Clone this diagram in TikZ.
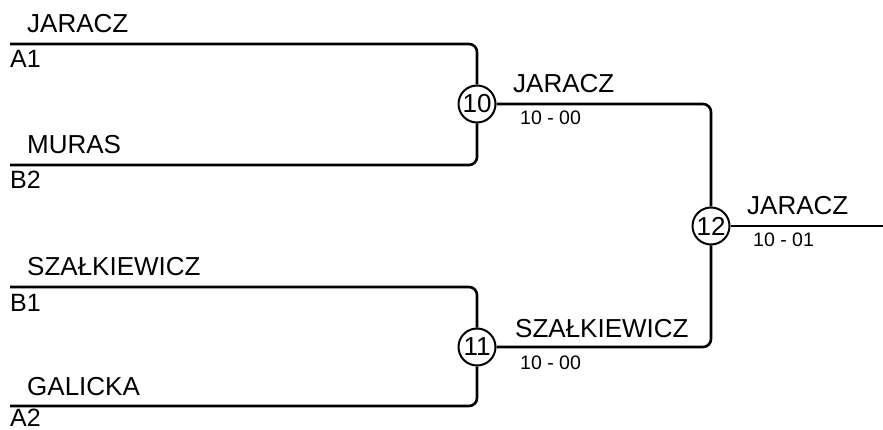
\documentclass[tikz,border=0pt]{standalone}
\usepackage{fontspec}
\setmainfont{Liberation Sans}
\begin{document}
\begin{tikzpicture}[x=1pt,y=-1pt,
    line/.style={line width=2.6pt,rounded corners=8pt},
    player/.style={anchor=base west,inner sep=0pt,font=\fontsize{26}{26}\selectfont},
    seed/.style={anchor=base west,inner sep=0pt,font=\fontsize{25}{25}\selectfont},
    score/.style={anchor=base west,inner sep=0pt,font=\fontsize{19.5}{19.5}\selectfont},
    match/.style={circle,draw,fill=white,line width=2pt,minimum size=37pt,inner sep=0pt,
      font=\fontsize{26}{26}\selectfont}]
      \useasboundingbox (0,0) rectangle (883,430);
      \coordinate (a1) at (10,44);
      \coordinate (b2) at (10,165);
      \coordinate (b1) at (10,287);
      \coordinate (a2) at (10,406);
      \coordinate (win) at (883,226);
      \draw
        (477,104) node[match] (m10){10}
        (477,347) node[match] (m11){11}
        (711,226) node[match] (m12){12};
      \begin{scope}[line]
        \draw (a1) -| (m10.north);
        \draw (b2) -| (m10.south);
        \draw (b1) -| (m11.north);
        \draw (a2) -| (m11.south);
        \draw (m10.east) -| (m12.north);
        \draw (m11.east) -| (m12.south);
        \draw (m12.east) -- (win);
      \end{scope}
      \draw
        (27,33) node[player] (p1){JARACZ}
        (10,68) node[seed] (s1){A1}
        (27,154) node[player] (p2){MURAS}
        (10,189) node[seed] (s2){B2}
        (27,276) node[player] (p3){SZAŁKIEWICZ}
        (10,311) node[seed] (s3){B1}
        (27,395) node[player] (p4){GALICKA}
        (10,426) node[seed] (s4){A2};
      \draw
        (513,93) node[player] (w10){JARACZ}
        (520,125) node[score] (r10){10 - 00}
        (515,337) node[player] (w11){SZAŁKIEWICZ}
        (520,369) node[score] (r11){10 - 00}
        (747,215) node[player] (w12){JARACZ}
        (753,247) node[score] (r12){10 - 01};
    \end{tikzpicture}
\end{document}
